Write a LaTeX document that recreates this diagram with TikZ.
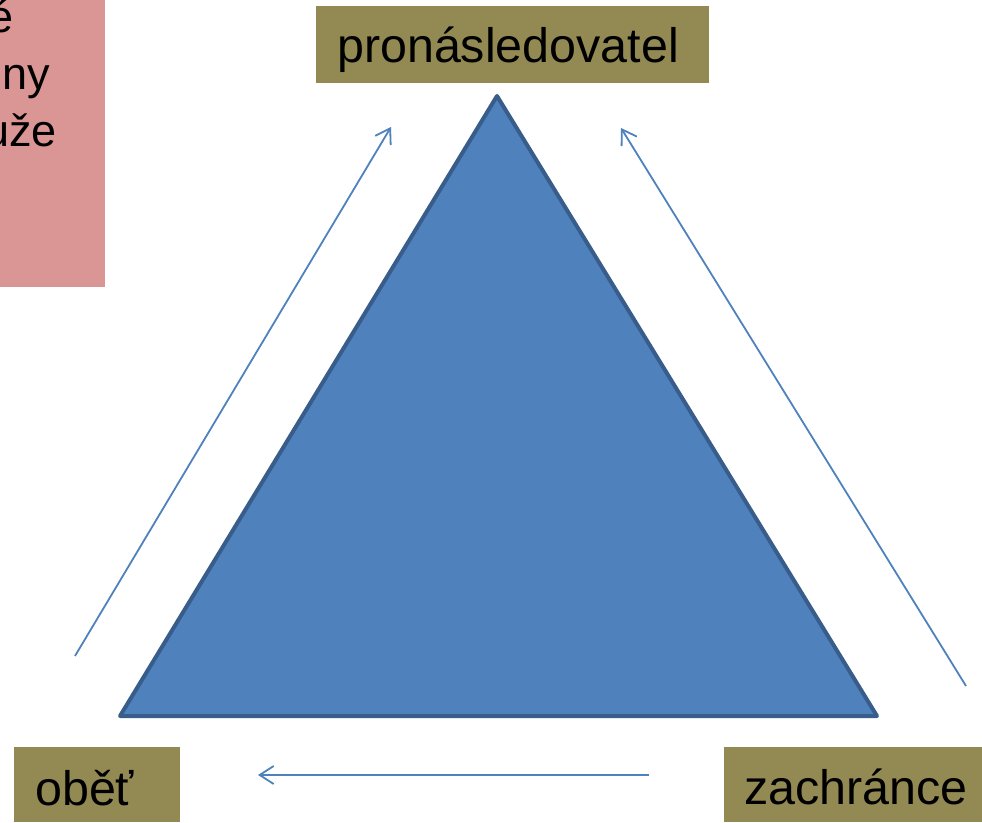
\documentclass[tikz,border=0pt]{standalone}
\usepackage{fontspec}
\setmainfont{Liberation Sans}
\usetikzlibrary{arrows.meta}
\definecolor{olive}{HTML}{938953}
\definecolor{pinkbox}{HTML}{D99694}
\definecolor{triblue}{HTML}{4F81BD}
\definecolor{triedge}{HTML}{385D8A}
\tikzset{
  labelbox/.style={fill=olive, draw=none},
  lbl/.style={font=\fontsize{48.4}{58}\selectfont, inner sep=0pt, anchor=base west},
  pinktxt/.style={font=\fontsize{45}{54}\selectfont, inner sep=0pt, anchor=base east},
  flow/.style={draw=triblue, line width=1.8pt, -{Straight Barb[length=14pt,width=18pt,line width=1.8pt]}}
}
\begin{document}
\begin{tikzpicture}[x=1pt,y=1pt]
\useasboundingbox (0,0) rectangle (982,822);
% pink box (cut off)
\fill[pinkbox] (0,822) rectangle (105,535);
\begin{scope}
\clip (0,822) rectangle (105,535);
\node[pinktxt] (p1) at (14,789) {é};
\node[pinktxt] (p2) at (50,732) {ny};
\node[pinktxt] (p3) at (57,675) {uže};
\end{scope}
% label boxes
\fill[labelbox] (316,816) rectangle (709,739);
\node[lbl] (pron) at (337,759) {pronásledovatel};
\fill[labelbox] (14,75) rectangle (180,0);
\node[lbl] (obet) at (35,17) {oběť};
\fill[labelbox] (724,75) rectangle (982,0);
\node[lbl] (zach) at (744,18) {zachránce};
% triangle
\coordinate (A) at (497,726);
\coordinate (B) at (120,106);
\coordinate (C) at (877,106);
\filldraw[fill=triblue, draw=triedge, line width=4pt, line join=round] (A) -- (B) -- (C) -- cycle;
% arrows
\coordinate (l1) at (75,166);
\coordinate (l2) at (391,695);
\coordinate (r1) at (966,136);
\coordinate (r2) at (621,694);
\coordinate (b1) at (649,47);
\coordinate (b2) at (258,47);
\draw[flow] (l1) -- (l2);
\draw[flow] (r1) -- (r2);
\draw[flow] (b1) -- (b2);
\end{tikzpicture}
\end{document}
